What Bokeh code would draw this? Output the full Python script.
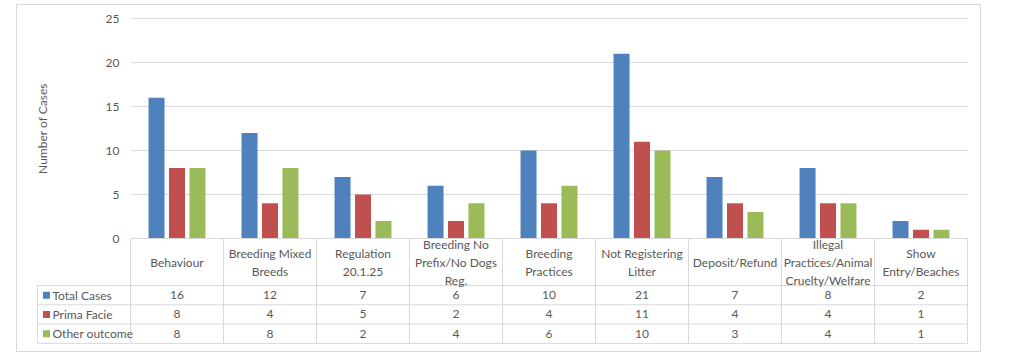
import math
from bokeh.plotting import figure
from bokeh.models import Range1d, ColumnDataSource
from bokeh.transform import dodge
from bokeh.core.properties import value
from bokeh.embed import file_html
from bokeh.resources import INLINE

categories = ["Behaviour", "Breeding Mixed Breeds", "Regulation 20.1.25",
              "Breeding No Prefix/No Dogs Reg.", "Breeding Practices",
              "Not Registering Litter", "Deposit/Refund",
              "Illegal Practices/Animal Cruelty/Welfare", "Show Entry/Beaches"]
header_labels = ["Behaviour", "Breeding Mixed\nBreeds", "Regulation\n20.1.25",
                 "Breeding No\nPrefix/No Dogs\nReg.", "Breeding\nPractices",
                 "Not Registering\nLitter", "Deposit/Refund",
                 "Illegal\nPractices/Animal\nCruelty/Welfare", "Show\nEntry/Beaches"]
series_names = ["Total Cases", "Prima Facie", "Other outcome"]
total_cases = [16, 12, 7, 6, 10, 21, 7, 8, 2]
prima_facie = [8, 4, 5, 2, 4, 11, 4, 4, 1]
other_outcome = [8, 8, 2, 4, 6, 10, 3, 4, 1]
y_ticks = [0, 5, 10, 15, 20, 25]
y_label = "Number of Cases"
colors = ["#4F81BD", "#C0504D", "#9BBB59"]

TXT = "#595959"
GRID = "#D9D9D9"
FONT = "Lato"
FS = "12px"

n = len(categories)
xs = [i + 0.5 for i in range(n)]
series = [total_cases, prima_facie, other_outcome]
src = ColumnDataSource(dict(x=xs, total=total_cases, prima=prima_facie, other=other_outcome))

# layout constants (pixels per data unit)
PX_X = 93.0
PX_Y = 8.8
y_max = y_ticks[-1]

p = figure(width=990, height=355,
           x_range=Range1d(-114 / PX_X, n + 13 / PX_X),
           y_range=Range1d(-113 / PX_Y, 234 / PX_Y),
           output_backend="svg", toolbar_location=None,
           min_border_left=16, min_border_right=10, min_border_top=4, min_border_bottom=4)
p.axis.visible = False
p.grid.visible = False
p.outline_line_color = GRID
p.background_fill_color = "white"

# gridlines
p.segment(x0=[0] * len(y_ticks), y0=y_ticks, x1=[n] * len(y_ticks), y1=y_ticks,
          line_color=GRID, line_width=1)

# y tick labels
p.text(x=[0] * len(y_ticks), y=y_ticks, text=[str(t) for t in y_ticks], x_offset=-11,
       text_align="right", text_baseline="middle", text_font=value(FONT),
       text_font_size=FS, text_color=TXT)
# y axis title
p.text(x=[-1 + 5 / PX_X], y=[y_max / 2], text=[y_label], angle=math.pi / 2,
       text_align="center", text_baseline="middle", text_font=value(FONT),
       text_font_size=FS, text_color=TXT)

# bars
for key, off, col in zip(["total", "prima", "other"], [-0.22, 0.0, 0.22], colors):
    p.vbar(x=dodge("x", off), top=key, width=0.172, source=src,
           fill_color=col, line_color=None)

# data table below
header_h = 47 / PX_Y
row_h = 19.3 / PX_Y
row_tops = [-header_h - r * row_h for r in range(4)]
bottom_y = row_tops[-1]

hx0, hx1, hy = [0], [n], [0]
for yv in row_tops:
    hx0.append(-1); hx1.append(n); hy.append(yv)
p.segment(x0=hx0, y0=hy, x1=hx1, y1=hy, line_color=GRID, line_width=1)
vx = [-1] + list(range(n + 1))
vy0 = [-header_h] + [0] * (n + 1)
vy1 = [bottom_y] * (n + 2)
p.segment(x0=vx, y0=vy0, x1=vx, y1=vy1, line_color=GRID, line_width=1)

p.text(x=xs, y=[-header_h / 2] * n, text=header_labels, text_align="center",
       text_baseline="middle", text_font=value(FONT), text_font_size=FS,
       text_color=TXT, text_line_height=1.2)

for r, vals in enumerate(series):
    yc = -header_h - (r + 0.5) * row_h
    p.text(x=xs, y=[yc] * n, text=[str(v) for v in vals], text_align="center",
           text_baseline="middle", text_font=value(FONT), text_font_size=FS,
           text_color=TXT)

leg_y = [-header_h - (r + 0.5) * row_h for r in range(3)]
p.rect(x=[-1 + 9 / PX_X] * 3, y=leg_y, width=7, height=7, width_units="screen",
       height_units="screen", fill_color=colors, line_color=None)
p.text(x=[-1] * 3, y=leg_y, text=series_names, x_offset=15, text_align="left",
       text_baseline="middle", text_font=value(FONT), text_font_size=FS,
       text_color=TXT)

open("out.html", "w").write(file_html(p, INLINE))
